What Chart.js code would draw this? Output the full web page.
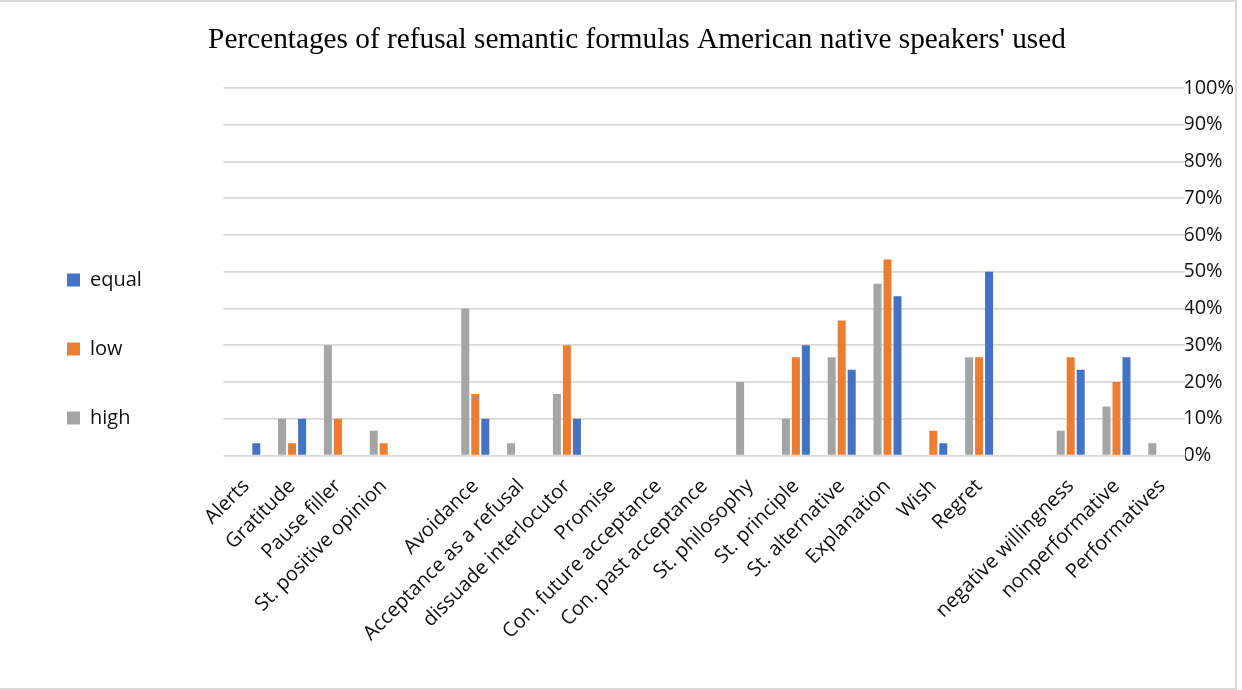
<!DOCTYPE html>
<html>
<head>
<meta charset="utf-8">
<script src="https://cdn.jsdelivr.net/npm/chart.js@4/dist/chart.umd.min.js"></script>
<style>
  html, body { margin: 0; padding: 0; background: #fff; overflow: hidden; width: 1242px; height: 690px; }
  #wrap { position: relative; width: 1242px; height: 690px; overflow: hidden; }
  canvas { position: absolute; left: 0; top: 0; }
  #frame { position: absolute; left: -2px; top: 0; width: 1235px; height: 686px; border: 2px solid #d9d9d9; pointer-events: none; }
</style>
</head>
<body>
<div id="wrap">
  <canvas id="c" width="1256" height="690"></canvas>
  <div id="frame"></div>
</div>
<script>
const titleText = "Percentages of refusal semantic formulas American native speakers' used";
const categories = [
  "Alerts", "Gratitude", "Pause filler", "St. positive opinion", "",
  "Avoidance", "Acceptance as a refusal", "dissuade interlocutor", "Promise",
  "Con. future acceptance", "Con. past acceptance", "St. philosophy",
  "St. principle", "St. alternative", "Explanation", "Wish", "Regret", "",
  "negative willingness", "nonperformative", "Performatives"
];
const seriesNames = ["high", "low", "equal"];
const highValues  = [0, 10, 30, 6.7, 0, 40, 3.3, 16.7, 0, 0, 0, 20, 10, 26.7, 46.7, 0, 26.7, 0, 6.7, 13.3, 3.3];
const lowValues   = [0, 3.3, 10, 3.3, 0, 16.7, 0, 30, 0, 0, 0, 0, 26.7, 36.7, 53.3, 6.7, 26.7, 0, 26.7, 20, 0];
const equalValues = [3.3, 10, 0, 0, 0, 10, 0, 10, 0, 0, 0, 0, 30, 23.3, 43.3, 3.3, 50, 0, 23.3, 26.7, 0];
const yTicks = [0, 10, 20, 30, 40, 50, 60, 70, 80, 90, 100];

const FONT = "'Open Sans', 'Noto Sans', sans-serif";
const TEXT = '#111';

// legend geometry: compute natural legend width so the plot starts where the reference does
const LEG_PAD = 49, LEG_BOX = 13, LEG_FONT = 20, PAD_LEFT = 18, PLOT_LEFT = 223.4;
const mctx = document.createElement('canvas').getContext('2d');
mctx.font = LEG_FONT + "px " + FONT;
const widest = Math.max(...seriesNames.map(n => mctx.measureText(n).width));
const legendWidth = LEG_PAD + LEG_BOX + LEG_FONT / 2 + widest + 10;
const gapWidth = Math.max(0, PLOT_LEFT - PAD_LEFT - legendWidth);

new Chart(document.getElementById('c'), {
  type: 'bar',
  data: {
    labels: categories,
    datasets: [
      { label: seriesNames[0], data: highValues,  backgroundColor: '#A5A5A5', borderWidth: 0, yAxisID: 'y' },
      { label: seriesNames[1], data: lowValues,   backgroundColor: '#ED7D31', borderWidth: 0, yAxisID: 'y' },
      { label: seriesNames[2], data: equalValues, backgroundColor: '#4472C4', borderWidth: 0, yAxisID: 'y' }
    ]
  },
  options: {
    responsive: false,
    animation: false,
    devicePixelRatio: 1,
    categoryPercentage: 0.655,
    barPercentage: 0.8,
    layout: { padding: { left: PAD_LEFT, right: 0, top: 8, bottom: 0 } },
    plugins: {
      title: {
        display: true,
        text: titleText,
        color: '#000',
        font: { family: "'Liberation Serif', 'Times New Roman', serif", size: 29.3, weight: 'normal', lineHeight: 1.2 },
        padding: { top: 15, bottom: 29.8 }
      },
      legend: {
        display: true,
        position: 'left',
        reverse: true,
        labels: {
          boxWidth: LEG_BOX,
          boxHeight: LEG_BOX,
          padding: LEG_PAD,
          color: TEXT,
          font: { family: FONT, size: LEG_FONT }
        }
      },
      tooltip: { enabled: false }
    },
    scales: {
      x: {
        grid: { display: false, drawTicks: false },
        border: { display: false },
        ticks: {
          autoSkip: false,
          minRotation: 45,
          maxRotation: 45,
          padding: 19,
          labelOffset: 0,
          color: TEXT,
          font: { family: FONT, size: 20 }
        },
        afterFit: (s) => { s.height = 234.5; }
      },
      yL: {
        type: 'linear',
        position: 'left',
        display: true,
        grid: { display: false, drawTicks: false },
        border: { display: false },
        ticks: { display: false },
        afterFit: (s) => { s.width = gapWidth; }
      },
      y: {
        type: 'linear',
        position: 'right',
        min: 0,
        max: 100,
        afterBuildTicks: (s) => { s.ticks = yTicks.map(v => ({ value: v })); },
        grid: { color: '#d9d9d9', lineWidth: 1.75, drawTicks: false },
        border: { display: false },
        ticks: {
          padding: -2,
          color: TEXT,
          font: { family: FONT, size: 20 },
          callback: (v) => v + '%'
        },
        afterFit: (s) => { s.width = 70.8; }
      }
    }
  }
});
</script>
</body>
</html>
